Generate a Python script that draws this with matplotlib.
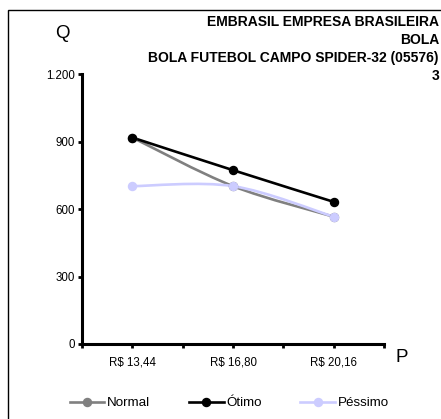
import numpy as np
import matplotlib
matplotlib.use('Agg')
import matplotlib.pyplot as plt
from matplotlib.path import Path
from matplotlib.patches import PathPatch, Rectangle
from matplotlib.lines import Line2D

plt.rcParams['font.family'] = ['Liberation Sans', 'DejaVu Sans']

# Data
categories = ['R$ 13,44', 'R$ 16,80', 'R$ 20,16']
normal = [918, 702, 566]
otimo = [918, 773, 632]
pessimo = [702, 702, 566]
series_names = ['Normal', 'Ótimo', 'Péssimo']
series_colors = ['#808080', '#000000', '#CCCCFF']
y_ticks = [0, 300, 600, 900, 1200]
y_tick_labels = ['0', '300', '600', '900', '1.200']
title_lines = ['EMBRASIL EMPRESA BRASILEIRA', 'BOLA',
               'BOLA FUTEBOL CAMPO SPIDER-32 (05576)', '3']


def smooth_path(xs, ys):
    # Excel-like smoothed line: cubic Bezier segments with Catmull-Rom tangents
    pts = np.column_stack([xs, ys]).astype(float)
    ext = np.vstack([pts[0], pts, pts[-1]])
    verts = [pts[0]]
    codes = [Path.MOVETO]
    for i in range(len(pts) - 1):
        p0, p1, p2, p3 = ext[i], ext[i + 1], ext[i + 2], ext[i + 3]
        c1 = p1 + (p2 - p0) / 6.0
        c2 = p2 - (p3 - p1) / 6.0
        verts += [c1, c2, p2]
        codes += [Path.CURVE4] * 3
    return Path(verts, codes)


fig = plt.figure(figsize=(4.41, 4.19), dpi=100)
ax = fig.add_axes([0.186, 0.179, 0.685, 0.644])

x = np.arange(len(categories))
for vals, name, color in zip([normal, otimo, pessimo], series_names, series_colors):
    patch = PathPatch(smooth_path(x, vals), facecolor='none', edgecolor=color,
                      linewidth=1.9, capstyle='round', joinstyle='round')
    ax.add_patch(patch)
    ax.plot(x, vals, 'o', color=color, markersize=5.8, linestyle='none')

ax.set_xlim(-0.5, len(categories) - 0.5)
ax.set_ylim(0, 1200)
ax.set_yticks(y_ticks)
ax.set_yticklabels(y_tick_labels)
ax.set_xticks(np.arange(-0.5, len(categories), 0.5))
ax.set_xticklabels([''] * 7)
for xi, lab in zip(x, categories):
    ax.text(xi, -0.068, lab, transform=ax.get_xaxis_transform(),
            ha='center', va='center', fontsize=8.3)

for side in ['top', 'right']:
    ax.spines[side].set_visible(False)
for side in ['left', 'bottom']:
    ax.spines[side].set_linewidth(2.2)
ax.tick_params(axis='both', direction='out', length=3, width=2, labelsize=8.3, pad=2)
ax.tick_params(axis='x', pad=0)

# Axis letters
fig.text(62 / 441, 1 - 33 / 419, 'Q', fontsize=13.5, ha='center', va='center')
fig.text(402 / 441, 1 - 357 / 419, 'P', fontsize=13.5, ha='center', va='center')

# Title, right-aligned against the figure edge
title_y = [22, 40, 58, 76]
for line, ty in zip(title_lines, title_y):
    fig.text(439 / 441, 1 - ty / 419, line, fontsize=10, fontweight='bold',
             ha='right', va='center')

# Outer frame
fig.patches.append(Rectangle((8 / 441, -0.1), 1.2, 1.1 - 10 / 419,
                             transform=fig.transFigure, fill=False,
                             edgecolor='black', linewidth=1.0))

handles = [Line2D([], [], color=c, marker='o', markersize=5.8, linewidth=1.9)
           for c in series_colors]
fig.legend(handles, series_names, loc='center', bbox_to_anchor=(0.52, 1 - 403 / 419),
           ncol=3, frameon=False, fontsize=9.6, handlelength=2.6, handletextpad=0.2,
           columnspacing=2.9, borderpad=0, borderaxespad=0)

fig.savefig('out.png', dpi=100)
